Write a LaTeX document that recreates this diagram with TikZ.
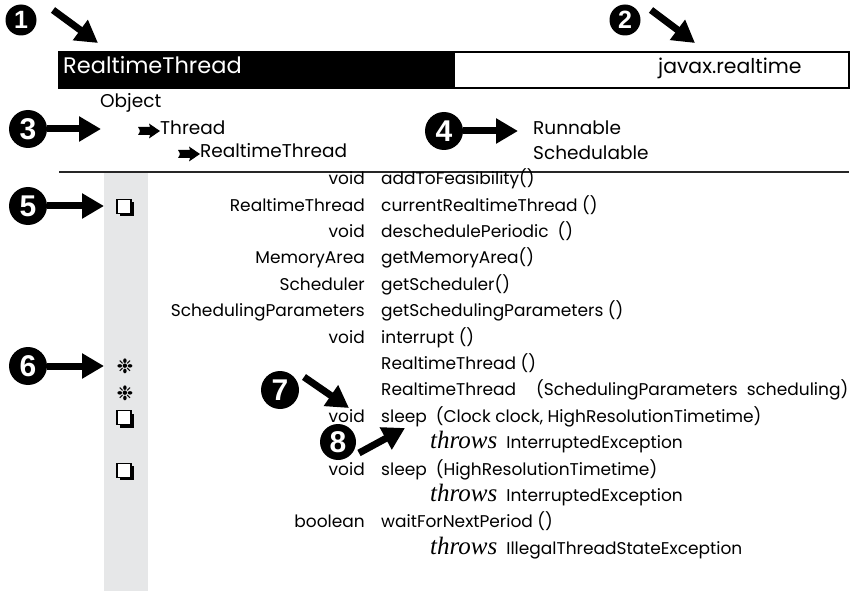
\documentclass[tikz,border=0pt]{standalone}
\usepackage{fontspec}
\setmainfont{Poppins}
\newfontfamily\digitfont{Liberation Sans}
\newfontfamily\serifit{Liberation Serif}
\newfontfamily\symfont{DejaVu Sans}
\usetikzlibrary{arrows.meta,shadows}
\definecolor{greycol}{HTML}{E6E7E8}
\newcommand{\bodyfont}{\fontsize{17}{20}\selectfont}
\newcommand{\thr}{{\serifit\itshape\fontsize{25}{26}\selectfont throws}\hspace{9pt}}
\tikzset{
  callout/.style={circle, fill=black, text=white, inner sep=0pt, minimum size=38pt,
    font=\digitfont\bfseries\fontsize{30}{30}\selectfont},
  smallcallout/.style={callout, minimum size=31pt, font=\digitfont\bfseries\fontsize{25}{25}\selectfont},
  bigarrow/.style={line width=7pt, -{Triangle[length=22pt,width=24pt]}},
  ret/.style={anchor=mid east, inner sep=0pt, font=\bodyfont},
  meth/.style={anchor=mid west, inner sep=0pt, font=\bodyfont},
  thrw/.style={anchor=mid west, inner sep=0pt, font=\bodyfont},
  hier/.style={anchor=mid west, inner sep=0pt, font=\fontsize{18.5}{22}\selectfont},
  chk/.style={draw=black, fill=white, line width=1.2pt, minimum size=14pt, inner sep=0pt,
    drop shadow={shadow xshift=3pt, shadow yshift=-3pt, fill=black, opacity=1}},
  star/.style={inner sep=0pt, font=\symfont\fontsize{20}{20}\selectfont},
  inharrow/.style={fill=black},
}
\begin{document}
\begin{tikzpicture}[x=1pt,y=-1pt]
\useasboundingbox (0,0) rectangle (852,591);
% grey column
\fill[greycol] (104,172) rectangle (148,591);
% header bar
\fill[black] (59,52) rectangle (455,88);
\draw[line width=1.2pt] (59,52) rectangle (849,88);
\node[anchor=mid west, inner sep=0pt, text=white, font=\fontsize{22.5}{26}\selectfont] (title) at (63,71) {RealtimeThread};
\node[anchor=mid west, inner sep=0pt, font=\fontsize{20.4}{24}\selectfont] (pkg) at (658,71) {javax.realtime};
% hierarchy
\node[hier] (obj) at (100,105) {Object};
\node[hier] (thr) at (160,132) {Thread};
\node[hier] (rtt) at (200,155) {RealtimeThread};
\begin{scope}[shift={(138,131)}]
  \fill[inharrow] (0,-4) -- (12,-4) -- (11,-7.5) -- (22,0) -- (11,7.5) -- (12,4) -- (0,4) .. controls (2.5,0) .. (0,-4) -- cycle;
\end{scope}
\begin{scope}[shift={(178,154)}]
  \fill[inharrow] (0,-4) -- (12,-4) -- (11,-7.5) -- (22,0) -- (11,7.5) -- (12,4) -- (0,4) .. controls (2.5,0) .. (0,-4) -- cycle;
\end{scope}
\node[hier] (run) at (533,132) {Runnable};
\node[hier] (sch) at (533,157) {Schedulable};
\draw[line width=1.2pt, black!85] (59,172) -- (849,172);
% rows
\node[ret] (r0) at (365,182.0) {void};
\node[meth] (m0) at (381,182.0) {addToFeasibility()};
\node[ret] (r1) at (365,208.4) {RealtimeThread};
\node[meth] (m1) at (381,208.4) {currentRealtimeThread ()};
\node[ret] (r2) at (365,234.8) {void};
\node[meth] (m2) at (381,234.8) {deschedulePeriodic\hspace{9pt}()};
\node[ret] (r3) at (365,261.2) {MemoryArea};
\node[meth] (m3) at (381,261.2) {getMemoryArea()};
\node[ret] (r4) at (365,287.6) {Scheduler};
\node[meth] (m4) at (381,287.6) {getScheduler()};
\node[ret] (r5) at (365,314.0) {SchedulingParameters};
\node[meth] (m5) at (381,314.0) {getSchedulingParameters ()};
\node[ret] (r6) at (365,340.4) {void};
\node[meth] (m6) at (381,340.4) {interrupt ()};
\node[meth] (m7) at (381,366.8) {RealtimeThread ()};
\node[meth] (m8) at (381,393.2) {RealtimeThread\hspace{20pt}(SchedulingParameters\hspace{9pt}scheduling)};
\node[ret] (r9) at (365,419.6) {void};
\node[meth] (m9) at (381,419.6) {sleep\hspace{9pt}(Clock clock, HighResolutionTimetime)};
\node[thrw] (t10) at (430,446.0) {\thr InterruptedException};
\node[ret] (r11) at (365,472.4) {void};
\node[meth] (m11) at (381,472.4) {sleep\hspace{9pt}(HighResolutionTimetime)};
\node[thrw] (t12) at (430,498.8) {\thr InterruptedException};
\node[ret] (r13) at (365,525.2) {boolean};
\node[meth] (m13) at (381,525.2) {waitForNextPeriod ()};
\node[thrw] (t14) at (430,551.6) {\thr IllegalThreadStateException};
% column symbols
\node[chk] (k1) at (124,206.4) {};
\node[chk] (k9) at (124,417.6) {};
\node[chk] (k11) at (124,470.4) {};
\node[star] (s7) at (125,366.8) {❉};
\node[star] (s8) at (125,393.2) {❉};
% callouts
\node[smallcallout] (c1) at (21,20) {1};
\node[smallcallout] (c2) at (625,20) {2};
\node[callout] (c3) at (28,129) {3};
\node[callout] (c4) at (444,131) {4};
\node[callout] (c5) at (28,206) {5};
\node[callout] (c6) at (28,366) {6};
\node[callout] (c7) at (280,390) {7};
\node[callout, minimum size=36pt] (c8) at (338,442) {8};
\coordinate (t1) at (53,10);  \coordinate (h1) at (98,43);
\coordinate (t2) at (651,10); \coordinate (h2) at (695,43);
\coordinate (h3) at (101,129);
\coordinate (h4) at (518,131);
\coordinate (h5) at (104,206);
\coordinate (h6) at (104,366);
\coordinate (t7) at (304,377); \coordinate (h7) at (349,408);
\coordinate (t8) at (359,453); \coordinate (h8) at (405,428);
\draw[bigarrow] (t1) -- (h1);
\draw[bigarrow] (t2) -- (h2);
\draw[bigarrow] (c3.east) -- (h3);
\draw[bigarrow] (c4.east) -- (h4);
\draw[bigarrow] (c5.east) -- (h5);
\draw[bigarrow] (c6.east) -- (h6);
\draw[bigarrow] (t7) -- (h7);
\draw[bigarrow] (t8) -- (h8);
\end{tikzpicture}
\end{document}
